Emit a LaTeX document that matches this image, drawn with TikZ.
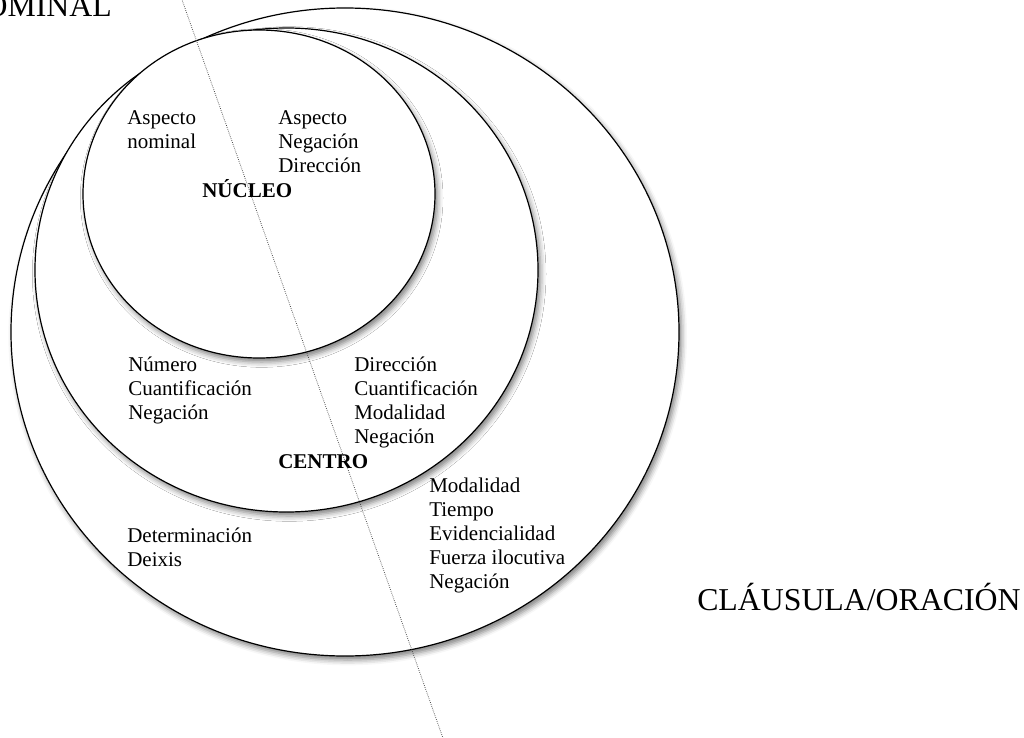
\documentclass[tikz,border=0pt]{standalone}
\usepackage{fontspec}
\setmainfont{Liberation Serif}
\usetikzlibrary{shadows.blur}
\newcommand\txtblk[1]{\begin{tabular}[t]{@{}l@{}}#1\end{tabular}}
\begin{document}
\begin{tikzpicture}[x=0.75pt,y=-0.75pt,
  ring/.style={draw=black, line width=0.9pt, fill=white,
    blur shadow={shadow xshift=2pt, shadow yshift=-3pt, shadow blur radius=4pt, shadow opacity=50}},
  lbl/.style={inner sep=0pt, anchor=base west, font=\fontsize{15.75}{18}\selectfont},
  big/.style={inner sep=0pt, font=\fontsize{23.85}{28}\selectfont},
  divider/.style={draw=black!75, line width=0.6pt, dash pattern=on 0.5pt off 1pt}]
\useasboundingbox (0,0) rectangle (1024,738);
% circles
\path[ring] (345,332) ellipse [x radius=334, y radius=324];
\path[ring] (286.5,270) ellipse [x radius=251.5, y radius=242];
\path[ring] (259,194) ellipse [x radius=176, y radius=164];
% dividing line
\coordinate (lt) at (175,-20);
\coordinate (lb) at (450,758);
\draw[divider] (lt) -- (lb);
% labels
\node[lbl] (an) at (127,125) {\txtblk{Aspecto\\nominal}};
\node[lbl] (av) at (278,125) {\txtblk{Aspecto\\Negación\\Dirección}};
\node[lbl] (nuc) at (202,198) {\textbf{NÚCLEO}};
\node[lbl] (cn) at (128,371) {\txtblk{Número\\Cuantificación\\Negación}};
\node[lbl] (cv) at (354,371) {\txtblk{Dirección\\Cuantificación\\Modalidad\\Negación}};
\node[lbl] (cen) at (278,468) {\textbf{CENTRO}};
\node[lbl] (on) at (127,542) {\txtblk{Determinación\\Deixis}};
\node[lbl] (ov) at (429,492) {\txtblk{Modalidad\\Tiempo\\Evidencialidad\\Fuerza ilocutiva\\Negación}};
\node[big, anchor=base east] (nom) at (112,17) {OMINAL};
\node[big, anchor=base west] (cla) at (697,610) {CLÁUSULA/ORACIÓN};
\end{tikzpicture}
\end{document}
